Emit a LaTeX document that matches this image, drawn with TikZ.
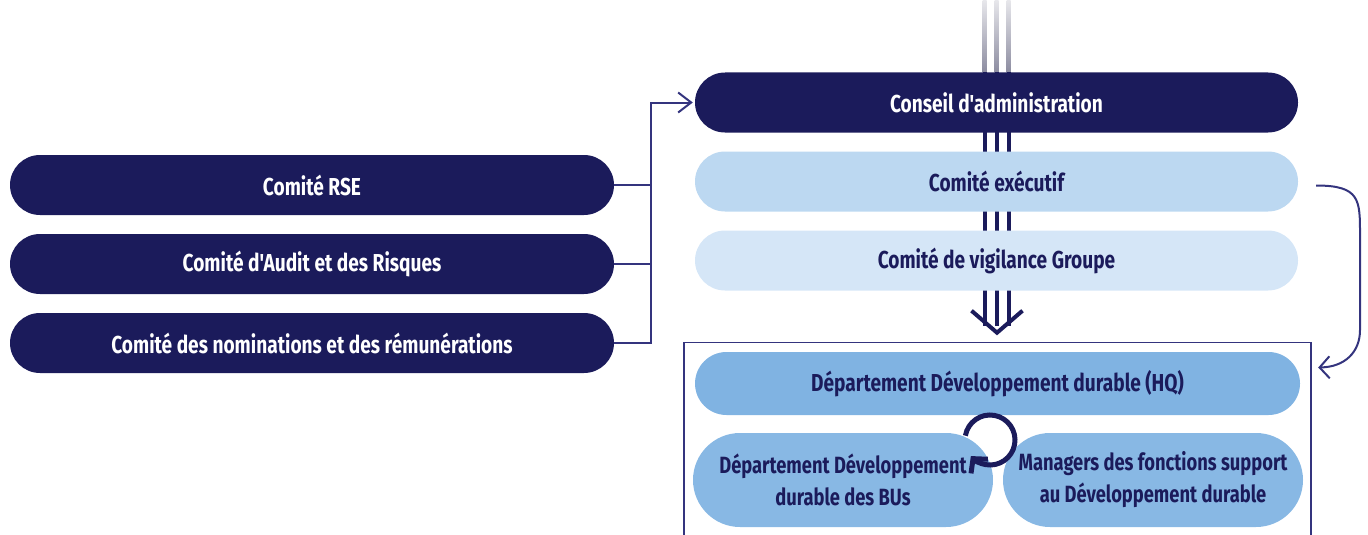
\documentclass[tikz,border=0pt]{standalone}
\usepackage{fontspec}
\setmainfont{Fira Sans}[FakeStretch=0.78, Ligatures=TeXOff]
\usetikzlibrary{arrows.meta,backgrounds}
\definecolor{navy}{HTML}{1B1B5B}
\definecolor{execc}{HTML}{BCD8F1}
\definecolor{vigilc}{HTML}{D5E6F7}
\definecolor{hqc}{HTML}{80B3E2}
\definecolor{lowc}{HTML}{88B8E4}
\definecolor{linec}{HTML}{34347E}
\definecolor{greyl}{HTML}{8C8CA0}
\begin{document}
\begin{tikzpicture}[x=1pt,y=-1pt,
  pill/.style={rounded corners=30pt, minimum width=604pt, minimum height=60pt, inner sep=0pt,
    font=\fontsize{24.5}{32}\selectfont\bfseries, align=center},
  darkpill/.style={pill, fill=navy, text=white},
  lightpill/.style={pill, text=navy},
  lowpill/.style={pill, fill=lowc, text=navy, minimum width=300pt, minimum height=94pt, rounded corners=47pt,
    font=\fontsize{23.5}{32}\selectfont\bfseries},
  conn/.style={draw=linec, line width=2pt},
  vline/.style={line width=4pt, navy}]
\useasboundingbox (0,0) rectangle (1368,535);
% left committees
\node[darkpill] (rse) at (312,185) {Comité RSE};
\node[darkpill] (audit) at (312,264) {Comité d'Audit et des Risques};
\node[darkpill] (nom) at (312,343) {Comité des nominations et des rémunérations};
% right column
\node[darkpill, minimum width=603pt] (conseil) at (996.5,102.5) {Conseil d'administration};
\node[lightpill, fill=execc, minimum width=603pt] (exec) at (996.5,181.5) {Comité exécutif};
\node[lightpill, fill=vigilc, minimum width=603pt] (vigil) at (996.5,260.5) {Comité de vigilance Groupe};
\node[lightpill, fill=hqc, minimum width=605pt, minimum height=63pt, rounded corners=31.5pt] (hq) at (997.5,383.5) {Département Développement durable (HQ)};
\node[lowpill] (bu) at (843,480) {Département Développement\\durable des BUs};
\node[lowpill] (mgr) at (1153,480) {Managers des fonctions support\\au Développement durable};
% vertical flow lines
\begin{scope}[on background layer]
  \foreach \dx in {-12,0,12} {
    \shade[top color=greyl!20, bottom color=greyl] ([xshift=\dx-2pt]conseil.north) rectangle ([xshift=\dx+2pt, yshift=73pt]conseil.north);
    \draw[vline] ([xshift=\dx]conseil.north) -- ([xshift=\dx, yshift=-35pt]vigil.south);
  }
\end{scope}
\draw[vline, line join=miter] ([xshift=-25pt, yshift=-20pt]vigil.south) -- ([xshift=0.5pt, yshift=-42pt]vigil.south) -- ([xshift=26pt, yshift=-20pt]vigil.south);
% frame
\draw[linec, line width=1.5pt] (684,535) -- (684,342.5) -- (1311,342.5) -- (1311,535);
% left connectors
\draw[conn] (rse.east) -- ([xshift=-44pt]rse.east -| conseil.west);
\draw[conn] (audit.east) -- ([xshift=-44pt]audit.east -| conseil.west);
\draw[conn, -{Straight Barb[length=13pt, width=20pt, line width=2pt]}] (nom.east) -| ([xshift=-44pt]conseil.west) -- ([xshift=-2pt]conseil.west);
% right curved connector
\draw[conn, -{Straight Barb[length=10pt, width=22pt, line width=2pt]}] ([xshift=18pt, yshift=-4pt]exec.east) .. controls ([xshift=62pt, yshift=-4pt]exec.east) and (1360,200) .. (1360,235) -- (1360,330) .. controls (1360,352) and (1345,367) .. ([xshift=18pt, yshift=16pt]hq.east);
% circular arrow
\draw[navy, line width=5pt, -{Straight Barb[length=10pt, width=22pt, line width=5pt]}] (990,440) ++(-170:25) arc[start angle=-170, end angle=140, radius=25];
\end{tikzpicture}
\end{document}
